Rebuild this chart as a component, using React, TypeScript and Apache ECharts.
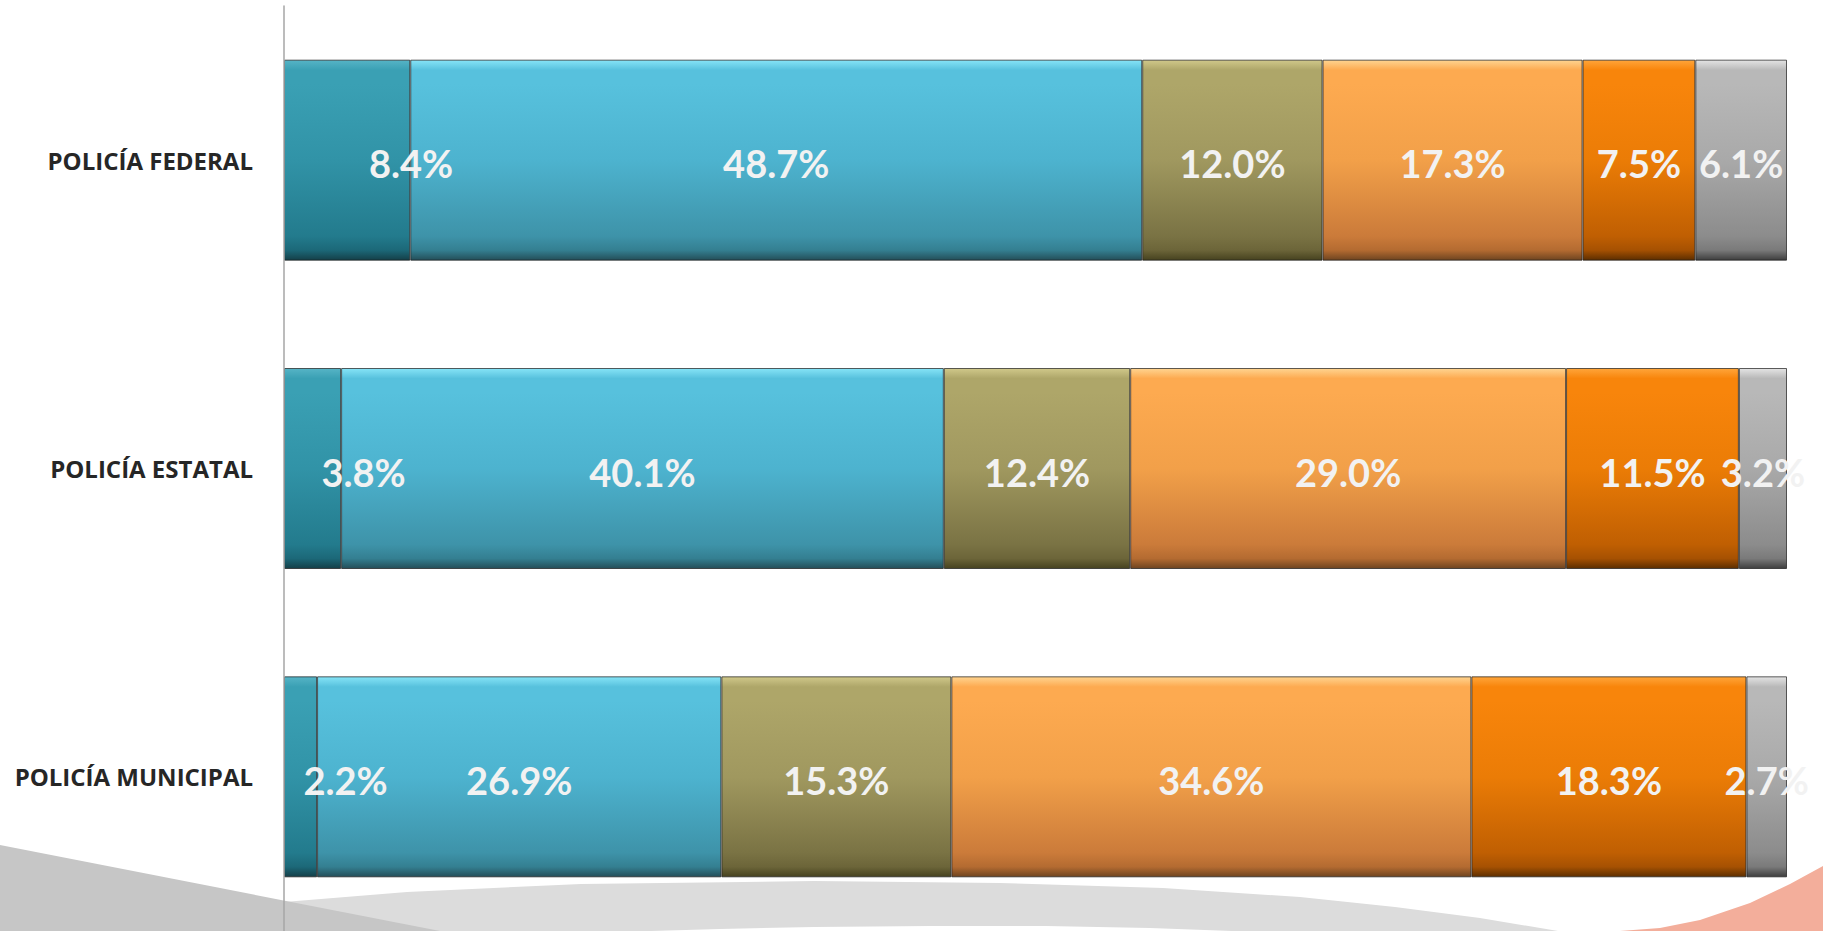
import React, { useEffect, useRef } from "react";
import * as echarts from "echarts";

const categories = ["POLICÍA FEDERAL", "POLICÍA ESTATAL", "POLICÍA MUNICIPAL"];
const seriesNames = ["Serie 1", "Serie 2", "Serie 3", "Serie 4", "Serie 5", "Serie 6"];
const s1 = [8.4, 3.8, 2.2];
const s2 = [48.7, 40.1, 26.9];
const s3 = [12.0, 12.4, 15.3];
const s4 = [17.3, 29.0, 34.6];
const s5 = [7.5, 11.5, 18.3];
const s6 = [6.1, 3.2, 2.7];
const allSeries = [s1, s2, s3, s4, s5, s6];

// styling (not data)
const gradients = [
  ["#56b4c6", "#3aa0b4", "#3193a7", "#237b8d", "#1c6878", "#143f48"],
  ["#86e4f7", "#57c1dd", "#4db3cf", "#3e93a9", "#347f91", "#244e58"],
  ["#d0c88a", "#aea669", "#a0985f", "#7a7344", "#6c6539", "#46421f"],
  ["#ffd490", "#fdaa50", "#f2a049", "#cb7b3a", "#b46b31", "#6e4420"],
  ["#ffa53a", "#f8850b", "#eb7c06", "#c05f02", "#a65102", "#5c2e00"],
  ["#e4e4e4", "#b8b8b8", "#a9a9a9", "#8c8c8c", "#7a7a7a", "#3e3e3e"],
];
const firstLabelShift = [64, 51, 45];

function grad(c: string[]) {
  return new echarts.graphic.LinearGradient(0, 0, 0, 1, [
    { offset: 0, color: c[0] },
    { offset: 0.05, color: c[1] },
    { offset: 0.12, color: c[1] },
    { offset: 0.5, color: c[2] },
    { offset: 0.88, color: c[3] },
    { offset: 0.95, color: c[4] },
    { offset: 1, color: c[5] },
  ]);
}

export default function App() {
  const ref = useRef<HTMLDivElement>(null);
  useEffect(() => {
    if (!ref.current) return;
    const chart = echarts.init(ref.current, null, { renderer: "svg" });
    const series = allSeries.map((vals, si) => ({
      name: seriesNames[si],
      type: "bar",
      stack: "total",
      barWidth: 201,
      z: 3,
      itemStyle: {
        color: grad(gradients[si]),
        borderColor: "rgba(25,25,25,0.7)",
        borderWidth: 1,
      },
      label: {
        show: true,
        position: "inside",
        formatter: (p: any) => Number(p.value).toFixed(1) + "%",
        color: "#f2f2f2",
        fontFamily: "Lato",
        fontWeight: "bold",
        fontSize: 38,
        offset: [0, 3],
      },
      data: vals.map((v, i) =>
        si === 0
          ? { value: v, label: { offset: [firstLabelShift[i], 3] } }
          : { value: v }
      ),
    }));
    chart.setOption({
      animation: false,
      backgroundColor: "#ffffff",
      grid: { left: 284, right: 36, top: 6, height: 935, containLabel: false },
      xAxis: { type: "value", min: 0, max: 100, show: false },
      yAxis: {
        type: "category",
        data: categories,
        inverse: true,
        axisLine: { show: true, lineStyle: { color: "#a6a6a6", width: 1.5 } },
        axisTick: { show: false },
        axisLabel: {
          margin: 31,
          color: "#262626",
          fontFamily: "Open Sans",
          fontWeight: "bold",
          fontSize: 24,
          lineHeight: 30,
          padding: [7, 0, 0, 0],
        },
        z: 4,
      },
      graphic: [
        {
          type: "polygon",
          z: -1,
          shape: {
            points: [
              [284, 902], [407, 892], [581, 884], [814, 881], [1000, 883], [1163, 888],
              [1300, 897], [1395, 907], [1480, 918], [1558, 931], [1232, 931], [1150, 928],
              [1046, 926], [930, 926], [814, 927], [720, 929], [651, 931], [284, 931],
            ],
          },
          style: { fill: "#dcdcdc" },
          silent: true,
        },
        {
          type: "polygon",
          z: -1,
          shape: { points: [[0, 845], [440, 931], [0, 931]] },
          style: { fill: "#c6c6c6" },
          silent: true,
        },
        {
          type: "polygon",
          z: -1,
          shape: {
            points: [
              [1823, 866], [1790, 884], [1750, 903], [1700, 920], [1660, 928], [1620, 931], [1823, 931],
            ],
          },
          style: { fill: "#f3ae9b" },
          silent: true,
        },
      ],
      series,
    });
    return () => chart.dispose();
  }, []);
  return (
    <div
      ref={ref}
      style={{ position: "fixed", left: 0, top: 0, width: "1823px", height: "931px" }}
    />
  );
}
